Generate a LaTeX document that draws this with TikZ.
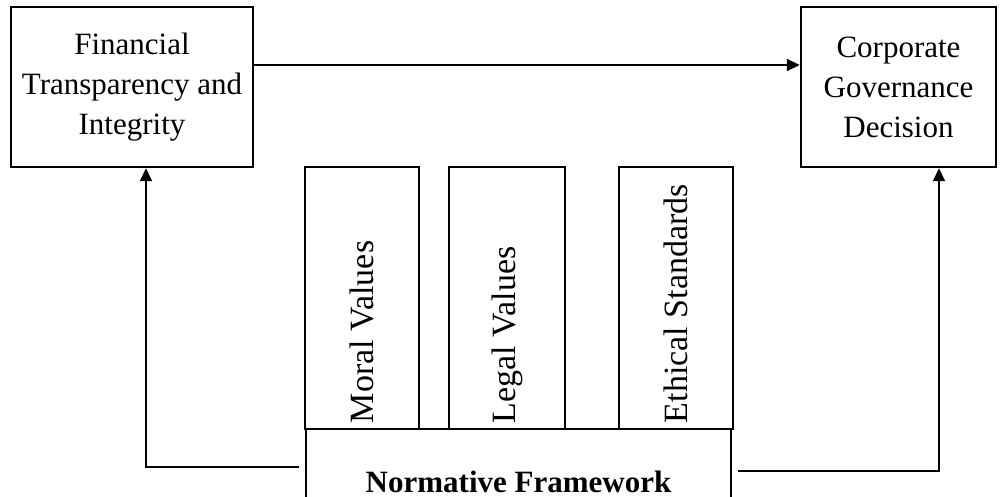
\documentclass[tikz,border=0pt]{standalone}
\usepackage{fontspec}
\setmainfont{Liberation Serif}
\usetikzlibrary{arrows.meta,positioning,calc}

\begin{document}
\begin{tikzpicture}[x=1pt, y=-1pt,
    every node/.style={font=\fontsize{31}{40}\selectfont},
    outcome/.style={rectangle, draw, line width=2.5pt, minimum height=160pt, align=center},
    pillar/.style={rectangle, draw, line width=2.5pt, rotate=90, minimum width=262pt, minimum height=114pt, inner sep=6pt, text width=250pt, align=flush left, font=\fontsize{34}{40}\selectfont},
    base/.style={rectangle, draw, line width=2.5pt, minimum width=425pt, minimum height=76pt},
    link/.style={line width=2pt, -{Triangle[length=13pt,width=12pt]}}
]
    \useasboundingbox (0,0) rectangle (1005,497);

    % Outcomes
    \node[outcome, minimum width=242pt] (fin) at (132,87) {Financial\\Transparency and\\Integrity};
    \node[outcome, minimum width=195pt] (corp) at (898.5,87) {Corporate\\Governance\\Decision};

    % Pillars
    \node[pillar] (moral) at (362,298) {Moral Values};
    \node[pillar, minimum height=116pt] (legal) at (507,298) {Legal Values};
    \node[pillar] (ethic) at (676,298) {Ethical Standards};

    % Framework
    \node[base] (norm) at (518.5,467) {};
    \node[font=\fontsize{31}{40}\selectfont\bfseries, anchor=base] (normtxt) at (518.5,492) {Normative Framework};

    % Connections
    \draw[link] ([yshift=22pt]fin.east) -- ([yshift=22pt]corp.west);
    \draw[link] ([xshift=-6pt]norm.west) -| ([xshift=14pt]fin.south);
    \draw[link] ([xshift=6pt,yshift=-4pt]norm.east) -| ([xshift=40.5pt]corp.south);
\end{tikzpicture}
\end{document}
